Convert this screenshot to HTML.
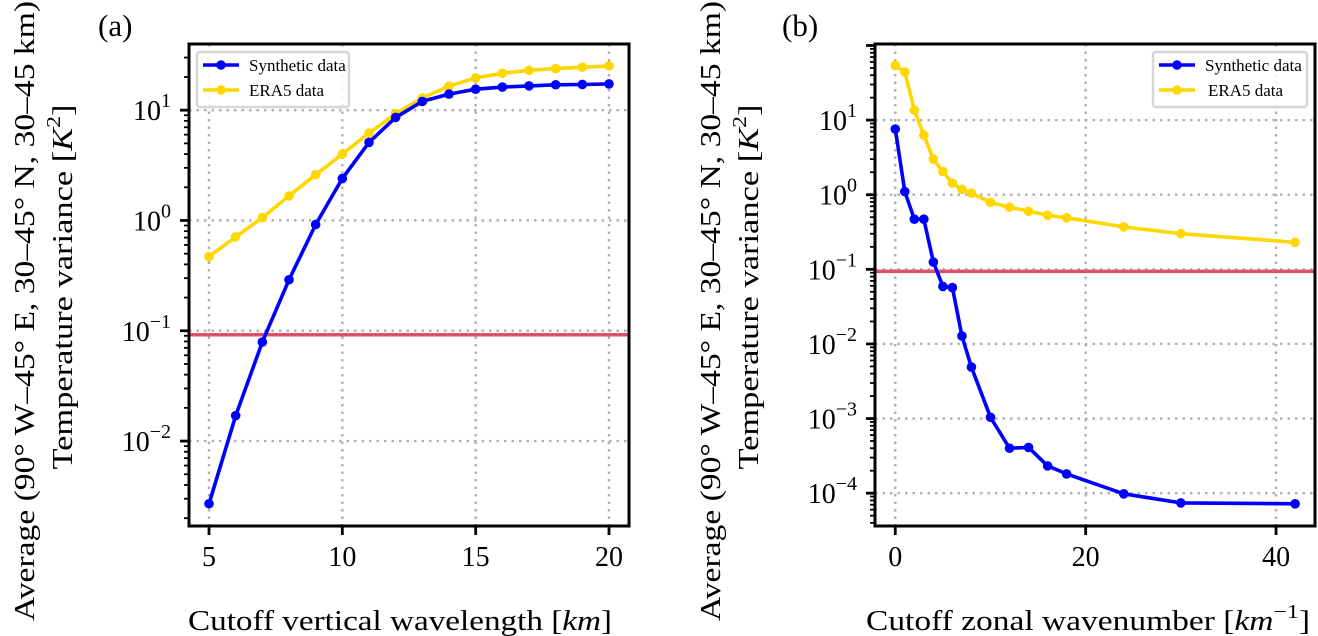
<!DOCTYPE html>
<html><head><meta charset="utf-8">
<style>
html,body{margin:0;padding:0;background:#fff;}
svg{display:block;font-family:"Liberation Serif","DejaVu Serif",serif;}
</style></head>
<body>
<svg id="fig" width="1318" height="636" viewBox="0 0 1318 636" xmlns="http://www.w3.org/2000/svg"></svg>
<script>
// Panel (a) data
const aX = [5,6,7,8,9,10,11,12,13,14,15,16,17,18,19,20];
const aSynthetic = [0.0027,0.017,0.079,0.29,0.92,2.4,5.1,8.6,12,14,15.5,16.2,16.6,17,17.1,17.3];
const aEra5 = [0.47,0.71,1.06,1.67,2.6,4.0,6.2,9.3,12.9,16.5,19.6,21.6,23,23.8,24.5,25.2];
const aThreshold = 0.092;
const aXTicks = [5,10,15,20];
const aYTickExps = [-2,-1,0,1];
// Panel (b) data
const bX = [0,1,2,3,4,5,6,7,8,10,12,14,16,18,24,30,42];
const bSynthetic = [7.6,1.1,0.47,0.47,0.125,0.059,0.057,0.0128,0.0049,0.00104,0.0004,0.00041,0.000232,0.000181,0.000098,0.000074,0.000072];
const bEra5 = [54,44,13.6,6.3,3.0,2.05,1.43,1.18,1.05,0.79,0.68,0.6,0.53,0.49,0.37,0.3,0.23];
const bThreshold = 0.094;
const bXTicks = [0,20,40];
const bYTickExps = [-4,-3,-2,-1,0,1];

const NS = "http://www.w3.org/2000/svg";
const svg = document.getElementById('fig');
function mk(tag, attrs, parent){
  const e = document.createElementNS(NS, tag);
  for (const k in attrs) e.setAttribute(k, attrs[k]);
  (parent||svg).appendChild(e);
  return e;
}

function panel(cfg){
  const g = mk('g', {});
  
  
  const L=cfg.left,R=cfg.right,T=cfg.top,B=cfg.bottom;
  const sx = v => L + (v-cfg.xmin)/(cfg.xmax-cfg.xmin)*(R-L);
  const sy = v => B - (Math.log10(v)-cfg.lmin)/(cfg.lmax-cfg.lmin)*(B-T);
  cfg.xTicks.forEach(t=>{
    const l = mk('line',{x1:sx(t),x2:sx(t),y1:T,y2:B,stroke:'#b0b0b0','stroke-width':2.4,'stroke-dasharray':'2.5,5'},g);
    
    
  });
  cfg.yExps.forEach(e=>{
    const y = sy(Math.pow(10,e));
    const l = mk('line',{x1:L,x2:R,y1:y,y2:y,stroke:'#b0b0b0','stroke-width':2.4,'stroke-dasharray':'2.5,5'},g);
    
    
  });
  const th = mk('line',{x1:L,x2:R,y1:sy(cfg.threshold),y2:sy(cfg.threshold),stroke:'#e0506c','stroke-width':3.5},g);
  
  
  const series = [[cfg.era5,'#ffd700','era5-series'],[cfg.syn,'#0000ff','synthetic-series']];
  series.forEach(([vals,col,nm])=>{
    const sg = mk('g',{},g);
    
    
    const pts = cfg.x.map((xv,i)=>sx(xv).toFixed(1)+','+sy(vals[i]).toFixed(1)).join(' ');
    const pl = mk('polyline',{points:pts,fill:'none',stroke:col,'stroke-width':3.6,'stroke-linejoin':'round'},sg);
    
    
    cfg.x.forEach((xv,i)=>{
      const c = mk('circle',{cx:sx(xv),cy:sy(vals[i]),r:4.8,fill:col},sg);
      
      
    });
  });
  const fr = mk('rect',{x:L,y:T,width:R-L,height:B-T,fill:'none',stroke:'#000','stroke-width':3},g);
  
  
  cfg.xTicks.forEach(t=>{
    mk('line',{x1:sx(t),x2:sx(t),y1:B,y2:B+9,stroke:'#000','stroke-width':2.8},g);
    const tx = mk('text',{x:sx(t),y:B+40,'font-size':28,'text-anchor':'middle'},g);
    tx.textContent = t;
    
    
  });
  for (let e=Math.floor(cfg.lmin); e<=Math.ceil(cfg.lmax); e++){
    for (let m=1;m<=9;m++){
      const lv = e+Math.log10(m);
      if (lv<cfg.lmin||lv>cfg.lmax) continue;
      const y = sy(Math.pow(10,lv));
      mk('line',{x1:L-(m===1?9:5),x2:L,y1:y,y2:y,stroke:'#000','stroke-width':m===1?2.8:1.8},g);
    }
  }
  cfg.yExps.forEach(e=>{
    const y = sy(Math.pow(10,e));
    const tx = mk('text',{x:L-18,y:y+10,'font-size':28,'text-anchor':'end'},g);
    
    
    const t1 = mk('tspan',{},tx); t1.textContent='10';
    const t2 = mk('tspan',{'font-size':20,dy:-13}, tx); t2.textContent = e<0 ? '\u2212'+(-e) : String(e);
  });
  const xl = mk('text',{x:cfg.xlc,y:630,'font-size':28,'text-anchor':'middle',textLength:cfg.xlLen,lengthAdjust:'spacingAndGlyphs'},g);
  
  
  xl.innerHTML = cfg.xlabel;
  const c1 = 311, c2 = 287;
  const yl1 = mk('text',{x:cfg.ylx1,y:c1,'font-size':29,'text-anchor':'middle',textLength:620,lengthAdjust:'spacingAndGlyphs',transform:`rotate(-90 ${cfg.ylx1} ${c1})`},g);
  
  
  yl1.textContent = 'Average (90\u00b0 W\u201345\u00b0 E, 30\u201345\u00b0 N, 30\u201345 km)';
  const yl2 = mk('text',{x:cfg.ylx2,y:c2,'font-size':29,'text-anchor':'middle',textLength:365,lengthAdjust:'spacingAndGlyphs',transform:`rotate(-90 ${cfg.ylx2} ${c2})`},g);
  
  
  yl2.innerHTML = 'Temperature variance [<tspan font-style="italic">K</tspan><tspan font-size="20" dy="-12">2</tspan><tspan dy="12">]</tspan>';
  const pl = mk('text',{x:cfg.plx,y:36,'font-size':31},g);
  
  
  pl.textContent = cfg.plabel;
  const lg = mk('g',{},g);
  
  
  mk('rect',{x:cfg.lgx,y:52,width:cfg.lgw,height:55,rx:3,fill:'#fff','fill-opacity':0.85,stroke:'#d6d6d6','stroke-width':2.5},lg);
  [['Synthetic data','#0000ff',65],['ERA5 data','#ffd700',90]].forEach(([lab,col,y])=>{
    const ent = mk('g',{},lg);
    
    
    mk('line',{x1:cfg.lgx+6,x2:cfg.lgx+42,y1:y,y2:y,stroke:col,'stroke-width':3.6},ent);
    mk('circle',{cx:cfg.lgx+24,cy:y,r:4.8,fill:col},ent);
    const t = mk('text',{x:cfg.lgx+52+(lab==='ERA5 data'?cfg.eraShift:0),y:y+6,'font-size':17},ent);
    t.textContent = lab;
  });
}

panel({name:'panel-a',left:189,right:629,top:44,bottom:526,xmin:4.25,xmax:20.75,lmin:-2.77,lmax:1.6,
  x:aX,syn:aSynthetic,era5:aEra5,threshold:aThreshold,xTicks:aXTicks,yExps:aYTickExps,
  xlabel:'Cutoff vertical wavelength [<tspan font-style="italic">km</tspan>]',xlc:400,xlLen:424,ylx1:34,ylx2:72,plx:98,plabel:'(a)',
  lgx:197,lgw:152,eraShift:0});
panel({name:'panel-b',left:875,right:1315,top:44,bottom:526,xmin:-2.13,xmax:44.09,lmin:-4.44,lmax:2.02,
  x:bX,syn:bSynthetic,era5:bEra5,threshold:bThreshold,xTicks:bXTicks,yExps:bYTickExps,
  xlabel:'Cutoff zonal wavenumber [<tspan font-style="italic">km</tspan><tspan font-size="20" dy="-12">\u22121</tspan><tspan dy="12">]</tspan>',xlc:1088,xlLen:444,ylx1:720,ylx2:758,plx:782,plabel:'(b)',
  lgx:1153,lgw:154,eraShift:3});
</script>
</body></html>
